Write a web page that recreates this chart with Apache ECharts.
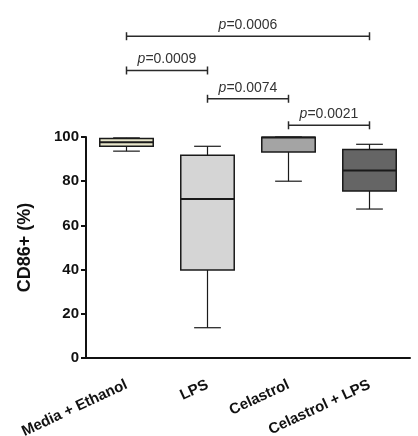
<!DOCTYPE html>
<html>
<head>
<meta charset="utf-8">
<script src="https://cdn.jsdelivr.net/npm/echarts@6/dist/echarts.min.js"></script>
<style>
  html, body { margin: 0; padding: 0; background: #fff; }
  #main { width: 418px; height: 436px; }
</style>
</head>
<body>
<div id="main"></div>
<script>
var groups = ['Media + Ethanol', 'LPS', 'Celastrol', 'Celastrol + LPS'];
// min, q1, median, q3, max
var boxMin    = [93.6, 13.7, 80.0, 67.4];
var boxQ1     = [95.8, 39.8, 93.2, 75.6];
var boxMedian = [97.6, 72.0, 99.8, 84.8];
var boxQ3     = [99.3, 91.7, 99.9, 94.4];
var boxMax    = [99.6, 95.8, 100, 96.7];
var boxColors = ['#e9e7cb', '#d5d5d5', '#a4a4a4', '#656565'];

// comparisons: from group, to group, bracket height (axis units), p value
var cmpFrom = [0, 0, 1, 2];
var cmpTo   = [3, 1, 2, 3];
var cmpY    = [145.6, 130.1, 117.3, 105.3];
var cmpP    = ['0.0006', '0.0009', '0.0074', '0.0021'];

var boxData = groups.map(function (g, i) {
    return [i, boxMin[i], boxQ1[i], boxMedian[i], boxQ3[i], boxMax[i]];
});
var cmpData = cmpFrom.map(function (f, i) {
    return [f, cmpTo[i], cmpY[i], i];
});

var font = '"Liberation Sans", Arial, sans-serif';
var myChart = echarts.init(document.getElementById('main'));

function renderBox(params, api) {
    var i = api.value(0);
    var band = api.size([1, 0])[0];
    var w = band * 0.66;
    var cw = w * 0.5;
    var pMin = api.coord([i, api.value(1)]);
    var pQ1 = api.coord([i, api.value(2)]);
    var pMed = api.coord([i, api.value(3)]);
    var pQ3 = api.coord([i, api.value(4)]);
    var pMax = api.coord([i, api.value(5)]);
    var x = pMin[0];
    var line = { stroke: '#1a1a1a', lineWidth: 1.2 };
    return {
        type: 'group',
        children: [
            { type: 'line', shape: { x1: x, y1: pQ1[1], x2: x, y2: pMin[1] }, style: line },
            { type: 'line', shape: { x1: x - cw / 2, y1: pMin[1], x2: x + cw / 2, y2: pMin[1] }, style: line },
            { type: 'line', shape: { x1: x, y1: pQ3[1], x2: x, y2: pMax[1] }, style: line },
            { type: 'line', shape: { x1: x - cw / 2, y1: pMax[1], x2: x + cw / 2, y2: pMax[1] }, style: line },
            {
                type: 'rect',
                shape: { x: x - w / 2, y: pQ3[1], width: w, height: pQ1[1] - pQ3[1] },
                style: { fill: boxColors[i], stroke: '#1a1a1a', lineWidth: 1.5 }
            },
            { type: 'line', shape: { x1: x - w / 2, y1: pMed[1], x2: x + w / 2, y2: pMed[1] }, style: { stroke: '#1a1a1a', lineWidth: 2 } }
        ]
    };
}

function renderBracket(params, api) {
    var a = api.coord([api.value(0), api.value(2)]);
    var b = api.coord([api.value(1), api.value(2)]);
    var k = api.value(3);
    var st = { stroke: '#2a2a2a', lineWidth: 1.5 };
    return {
        type: 'group',
        children: [
            { type: 'line', shape: { x1: a[0], y1: a[1], x2: b[0], y2: b[1] }, style: st },
            { type: 'line', shape: { x1: a[0], y1: a[1] - 4, x2: a[0], y2: a[1] + 4 }, style: st },
            { type: 'line', shape: { x1: b[0], y1: b[1] - 4, x2: b[0], y2: b[1] + 4 }, style: st },
            {
                type: 'text',
                x: (a[0] + b[0]) / 2,
                y: a[1] - 4,
                style: {
                    text: '{i|p}=' + cmpP[k],
                    align: 'center',
                    verticalAlign: 'bottom',
                    fill: '#333',
                    font: '14px ' + font,
                    rich: {
                        i: { fontStyle: 'italic', fontSize: 14, fontFamily: font, fill: '#333' }
                    }
                }
            }
        ]
    };
}

var option = {
    animation: false,
    grid: { left: 86, right: 8, top: 137, bottom: 78, outerBoundsMode: 'none', containLabel: false },
    xAxis: {
        type: 'category',
        data: groups,
        axisLine: { lineStyle: { color: '#111', width: 2 } },
        axisTick: { alignWithLabel: true, length: 5, lineStyle: { color: '#111', width: 2 } },
        axisLabel: {
            rotate: 25,
            margin: 26,
            color: '#111',
            fontWeight: 'bold',
            fontSize: 15,
            fontFamily: font
        }
    },
    yAxis: {
        type: 'value',
        min: 0,
        max: 100,
        interval: 20,
        name: 'CD86+ (%)',
        nameLocation: 'middle',
        nameGap: 52,
        nameTextStyle: { color: '#111', fontWeight: 'bold', fontSize: 18, fontFamily: font },
        splitLine: { show: false },
        axisLine: { show: true, lineStyle: { color: '#111', width: 2 } },
        axisTick: { show: true, length: 5, lineStyle: { color: '#111', width: 2 } },
        axisLabel: {
            margin: 7,
            color: '#111',
            fontWeight: 'bold',
            fontSize: 15,
            fontFamily: font
        }
    },
    series: [
        {
            type: 'custom',
            renderItem: renderBox,
            data: boxData,
            clip: false,
            encode: { x: 0, y: [1, 5] }
        },
        {
            type: 'custom',
            renderItem: renderBracket,
            data: cmpData,
            clip: false,
            encode: { x: [0, 1], y: 2 }
        }
    ]
};
myChart.setOption(option);
</script>
</body>
</html>
